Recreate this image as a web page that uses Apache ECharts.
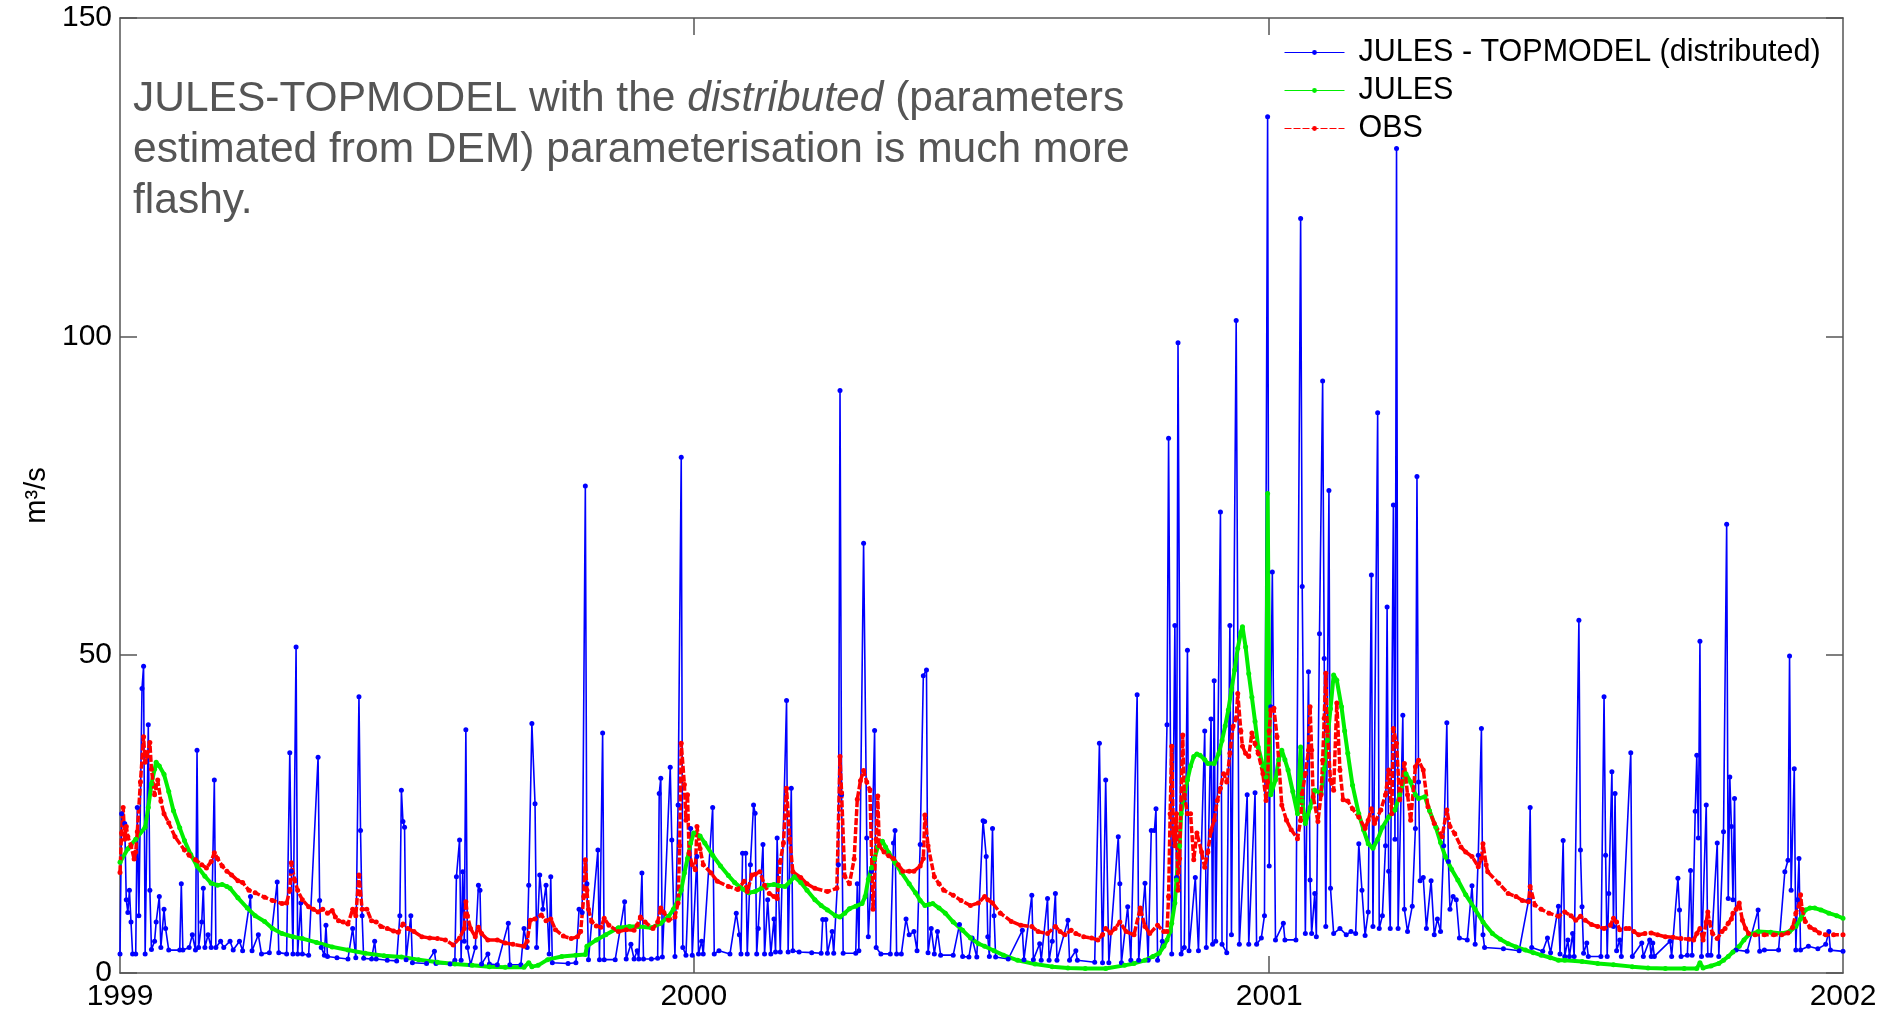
<!DOCTYPE html>
<html>
<head>
<meta charset="utf-8">
<script src="https://cdn.jsdelivr.net/npm/echarts@6/dist/echarts.min.js"></script>
<style>
  html, body { margin: 0; padding: 0; background: #fff; }
  #chart { width: 1897px; height: 1013px; }
</style>
</head>
<body>
<div id="chart"></div>
<script>
// x values are days counted from 1 Jan 1999
const xTickDays = [0, 365, 731, 1096];
const xTickLabels = ['1999', '2000', '2001', '2002'];
const yTicks = [0, 50, 100, 150];
const seriesNames = ['JULES - TOPMODEL (distributed)', 'JULES', 'OBS'];
const noteLines = [
  'JULES-TOPMODEL with the {i|distributed} (parameters',
  'estimated from DEM) parameterisation is much more',
  'flashy.'
];

// JULES - TOPMODEL (distributed), m3/s
const distributedQ = [
  [0,3],[1,25],[3,23.5],[4,11.5],[5,9.5],[6,13],[7,8],[8,3],[10,3],[11,26],[12,9],[14,44.7],[15,48.2],[16,3],[18,39],[19,13],[20,3.7],
  [22,5],[23,8],[25,12],[26,4],[28,10],[29,7],[31,3.6],[38,3.6],[39,14],[40,3.6],[44,4],[46,6],[48,3.6],[49,35],[50,4],[52,8],[53,13.3],
  [54,4],[56,6],[58,4],[60,30.3],[61,4],[64,5],[66,4],[70,5],[72,3.6],[76,5],[78,3.5],[83,12],[84,3.5],[88,6],[90,3],[95,3.2],[100,14.3],
  [101,3.2],[106,3],[108,34.6],[109,16],[110,3],[112,51.2],[113,3],[115,11],[116,3],[120,2.8],[126,33.9],[127,11.4],[128,4],[130,2.8],
  [131,7.5],[132,2.6],[138,2.4],[145,2.2],[148,7],[150,2.4],[152,43.4],[153,22.4],[154,9],[155,2.3],[160,2.2],[162,5],[163,2.2],[170,2],
  [176,1.9],[178,9],[179,28.7],[180,23.8],[181,22.9],[182,2.1],[185,9],[186,1.6],[195,1.5],[200,3.4],[201,1.5],[210,1.4],[213,2],
  [214,15.1],[216,20.9],[217,2],[218,15.9],[219,5],[220,38.2],[221,4],[223,1.3],[226,4],[228,13.8],[229,13],[230,1.4],[234,3],[235,1.4],
  [240,1.3],[247,7.8],[248,1.3],[255,1.3],[257,7],[259,4],[260,13.8],[262,39.2],[264,26.6],[265,4],[267,15.4],[269,10],[271,13.8],
  [273,3],[274,15.1],[275,1.6],[285,1.5],[290,1.6],[292,10],[294,9.5],[296,76.5],[297,14],[298,2.1],[304,19.3],[305,2.1],[307,37.7],
  [308,2.1],[315,2.1],[321,11.2],[322,2.2],[325,4.5],[327,2.2],[329,3.5],[330,2.2],[332,15.7],[333,2.2],[338,2.2],[342,2.3],[343,28.2],
  [344,30.6],[345,2.5],[350,32.3],[351,20.9],[353,2.6],[355,26.4],[357,81],[358,4],[360,2.8],[363,22.7],[364,2.8],[367,18.3],[368,3],
  [370,5],[371,3],[377,26],[378,3],[381,3.5],[388,3],[392,9.4],[394,6],[395,3],[396,18.8],[398,18.8],[399,3],[401,17],[403,26.4],
  [404,25.1],[405,3],[406,7],[409,20.2],[410,3],[412,11.5],[414,3],[416,8.5],[417,3.3],[418,21.2],[420,3.3],[424,42.8],[425,3.3],
  [427,29],[428,3.5],[432,3.3],[440,3.2],[446,3.1],[447,8.4],[449,8.4],[450,3.1],[453,6.5],[454,3.1],[457,17],[458,91.5],[459,28],
  [460,3.1],[468,3.1],[469,14],[470,3.5],[473,67.5],[475,21.2],[476,5.7],[478,16],[480,38.1],[481,4],[484,3],[490,3],[492,20.4],
  [493,22.4],[494,3],[497,3],[500,8.5],[502,6],[505,6.5],[507,3.5],[509,20.2],[511,46.7],[513,47.6],[514,3.2],[516,7],[518,3],[520,6.5],
  [522,2.8],[530,2.8],[534,7.6],[536,2.6],[540,2.5],[542,5.5],[545,2.5],[549,23.9],[550,23.8],[551,18.3],[552,5.7],[553,2.6],[555,22.7],
  [556,9],[557,2.5],[565,2.2],[574,6.7],[575,2.1],[580,12.2],[581,2.1],[585,4.6],[586,2],[590,11.7],[591,2],[593,5],[595,12.5],[596,2],
  [603,8.3],[604,2],[608,3.5],[609,2],[620,1.7],[623,36.1],[625,1.6],[627,30.3],[629,1.6],[635,21.4],[636,14],[637,1.6],[641,10.4],
  [643,2],[647,43.7],[648,2],[652,14.1],[654,2],[656,22.4],[658,22.4],[659,25.8],[660,2],[663,5],[666,39],[667,84],[669,3],[671,54.6],
  [672,15],[673,99],[675,3],[677,4],[679,50.7],[680,3.5],[684,15],[686,3.5],[690,38],[691,4],[694,39.9],[695,4.5],[696,45.9],[697,5],
  [700,72.4],[701,4.5],[704,3.2],[706,54.6],[707,6],[710,102.5],[712,4.5],[717,28],[718,4.5],[722,28.3],[723,4.5],[726,5.5],[728,9],
  [730,134.5],[731,16.8],[732,41.8],[733,63],[735,5.2],[740,7.8],[741,5.2],[748,5.2],[751,118.5],[752,60.7],[754,6.2],[756,47.3],
  [757,14.6],[758,6.2],[760,12.5],[761,5.7],[763,53.3],[765,93],[766,49.4],[767,7.3],[769,75.8],[770,13.3],[772,6.2],[776,7],[780,6],
  [783,6.5],[786,6.2],[788,20.3],[790,13],[792,5.9],[794,9.6],[796,62.5],[797,7.3],[800,88],[801,7],[803,9],[805,20],[806,57.5],[807,16],
  [808,7],[810,73.5],[811,21],[812,129.5],[813,7],[816,40.5],[817,10],[819,6.5],[822,10.5],[824,22.7],[825,78],[826,30],[827,14.5],
  [829,15],[831,7],[834,14.5],[836,6],[838,8.5],[840,6.5],[842,20],[844,39.3],[845,17.5],[846,10],[848,12],[850,11.5],[852,5.5],
  [857,5.2],[860,13.7],[862,4.5],[864,18.5],[866,38.4],[867,6],[868,4],[880,3.8],[890,3.5],[896,11.4],[897,26],[898,4],[905,3.4],
  [908,5.5],[910,3.2],[915,10.5],[916,3],[918,20.8],[919,2.6],[921,5.2],[922,2.6],[924,6.2],[925,2.6],[928,55.4],[929,19.3],[930,10.4],
  [931,3.1],[933,4.7],[934,2.6],[942,2.6],[944,43.4],[945,18.5],[946,2.6],[947,12.5],[949,31.6],[950,7.3],[951,28.2],[952,3.5],[954,5.2],
  [955,2.6],[961,34.6],[962,2.6],[968,4.7],[969,2.6],[973,5.2],[974,2.6],[975,4.7],[976,2.6],[986,5],[987,2.6],[991,14.9],[992,9.9],
  [993,2.6],[997,2.8],[999,16.1],[1000,2.8],[1002,25.4],[1003,34.2],[1004,21.2],[1005,52.1],[1006,2.6],[1009,26.4],[1010,2.8],[1012,2.8],
  [1016,20.4],[1017,2.6],[1020,22.2],[1022,70.5],[1023,11.7],[1024,30.8],[1025,23],[1026,11.5],[1027,27.4],[1028,3.6],[1035,3.4],
  [1042,9.9],[1043,3.4],[1046,3.6],[1055,3.6],[1059,15.9],[1061,17.7],[1062,49.8],[1063,13],[1065,32.1],[1066,3.6],[1067,11.5],
  [1068,18],[1069,3.6],[1074,4.2],[1080,3.8],[1085,4.5],[1087,6.5],[1088,3.6],[1096,3.4]
];

// JULES, m3/s
const julesQ = [
  [0,17.4],[5,19.5],[10,21],[16,22.9],[18,26],[20,29.7],[22,32],[23,33.1],[25,32.5],[28,31.2],[31,28.5],[34,25.5],[38,22.8],[41,20.8],
  [45,18.6],[49,16.8],[54,15.2],[58,14.1],[62,13.8],[65,13.9],[68,13.6],[70,13.3],[75,11.8],[81,10.2],[86,9],[92,8.1],[97,7],[103,6.2],
  [110,5.7],[116,5.4],[125,4.8],[135,4.1],[145,3.6],[156,3.1],[168,2.7],[179,2.5],[190,2.1],[202,1.7],[213,1.4],[224,1.2],[235,1],
  [245,0.9],[257,0.9],[260,1.6],[262,1],[266,1.2],[272,2.1],[281,2.6],[290,2.8],[296,2.9],[297,4.2],[303,5.2],[309,6],[317,7.1],
  [324,7.3],[330,7.3],[338,7.1],[344,7.8],[349,8.9],[352,10],[355,11.5],[357,13],[359,15.7],[361,18],[363,20.4],[365,22],[369,21.5],
  [372,20.4],[377,18.5],[382,16.8],[387,15.3],[391,14.2],[396,13.2],[400,12.6],[404,12.8],[408,13.3],[412,13.8],[416,13.9],[419,13.7],
  [423,13.6],[426,14.3],[429,15.1],[433,14.2],[437,13],[442,11.5],[446,10.6],[450,9.9],[455,9],[458,8.8],[461,9.4],[464,10.1],[468,10.5],
  [472,10.9],[474,12],[476,14.7],[478,16.5],[480,18],[482,19.8],[485,20.7],[487,19.8],[489,18.9],[493,17.3],[497,15.8],[502,14],
  [506,12.6],[509,11.4],[512,10.6],[515,10.8],[517,10.9],[521,10.2],[525,9.4],[530,8],[536,6.7],[541,5.5],[546,4.6],[550,4.2],[556,3.5],
  [562,2.8],[571,2],[582,1.4],[593,1],[603,0.8],[614,0.7],[627,0.7],[639,1.2],[645,1.5],[652,2],[657,2.6],[661,3.1],[664,4.2],[666,5.2],
  [668,6.5],[669,7.8],[671,11],[672,14.6],[674,20],[675,25],[677,28],[679,30.3],[681,32.5],[683,34],[685,34.4],[687,34.2],[690,33.5],
  [692,32.9],[696,32.9],[699,34.5],[701,36.5],[703,38.8],[705,41.3],[707,44.5],[709,47.6],[711,51],[713,53.5],[714,54.4],[716,51.2],
  [718,47],[720,43.3],[722,39.5],[724,35.5],[727,32.5],[729,30.8],[730,75.3],[731,43.4],[732,28],[735,30.3],[737,33.5],[739,35],
  [741,33.5],[743,31.9],[746,28.5],[749,25],[751,35.5],[752,27],[754,23.5],[757,26],[760,28.7],[764,28.2],[766,32],[768,36.6],[770,41.5],
  [772,46.8],[774,46],[777,41.8],[779,38],[781,34.5],[784,29.5],[788,25],[791,22.5],[794,20.3],[797,19.6],[800,21],[803,22.9],[807,24.5],
  [811,25.6],[814,28],[818,31.3],[821,30],[824,28],[826,27.4],[830,27.7],[833,25.5],[837,22.9],[840,20.5],[843,18.3],[847,16.3],
  [851,14.6],[856,12.3],[862,10],[867,8],[873,6.2],[878,5.3],[883,4.6],[888,4.1],[894,3.6],[899,3.2],[904,2.8],[910,2.4],[915,2],
  [919,2],[930,1.8],[940,1.5],[950,1.3],[962,1],[972,0.8],[983,0.7],[995,0.7],[1003,0.7],[1005,1.6],[1007,0.8],[1012,1.1],[1017,1.5],
  [1020,2],[1023,2.6],[1026,3.3],[1030,4.2],[1033,5.2],[1036,6],[1042,6.5],[1050,6.4],[1057,6.2],[1062,6.5],[1066,7.3],[1069,8.5],
  [1072,9.9],[1075,10.2],[1078,10.2],[1082,9.9],[1087,9.4],[1092,9],[1096,8.6]
];

// OBS, m3/s
const obsQ = [
  [0,15.8],[1,22],[2,26],[3,21],[4,23],[5,21.4],[7,20],[9,17.9],[10,19],[11,22.2],[13,30],[15,37.1],[16,33.1],[17,34],[19,36.2],[20,32],
  [22,28],[24,30.3],[26,27],[28,25],[31,23.6],[35,21.4],[41,19.3],[44,18.5],[48,17.8],[52,17],[55,16.5],[58,17.5],[60,18.9],[62,18],
  [65,16.8],[68,16],[71,15.4],[75,14.5],[78,14.2],[82,13],[86,12.6],[92,11.9],[97,11.4],[103,10.9],[106,11],[108,13],[109,17.3],
  [111,14.7],[113,13],[116,11.5],[120,10.4],[123,10],[126,9.6],[129,10],[132,9.4],[135,9.8],[137,8.8],[139,8.2],[142,8],[145,7.7],
  [148,10],[150,9],[152,15.4],[154,10],[157,10],[160,8.2],[163,8],[166,7.3],[170,7],[174,6.6],[177,6.4],[180,7.7],[183,7],[187,6.5],
  [192,5.7],[197,5.5],[202,5.4],[207,5.2],[212,4.4],[216,5.5],[219,7],[220,11.2],[221,9],[223,7],[226,5.7],[228,7.2],[230,6.2],
  [234,5.2],[240,5.2],[245,4.7],[250,4.5],[257,4.2],[259,5],[261,8.3],[264,8.5],[268,9.1],[271,8.2],[274,8.5],[277,6.8],[282,5.8],
  [287,5.4],[291,5.7],[293,6.5],[295,12],[296,17.8],[297,13],[298,10],[300,8.1],[303,7.4],[306,7.2],[308,8.6],[311,7.5],[317,6.5],
  [322,6.8],[327,6.7],[329,7.5],[331,8.8],[334,8],[339,7],[342,8],[344,10.2],[346,9.5],[349,8.3],[353,8.8],[355,11],[356,20],[357,36.1],
  [359,29.6],[360,24],[361,28],[362,18.8],[364,17],[366,16.2],[367,23],[369,19.5],[371,17],[376,15.7],[380,14.4],[387,13.6],[393,13.1],
  [397,14.4],[399,12.8],[402,15.4],[404,15.5],[407,15.9],[410,13.8],[413,12.5],[416,12],[418,11.7],[420,17.5],[422,20.4],[424,29],
  [426,21.1],[428,15.9],[433,15],[437,14],[442,13.3],[450,12.8],[456,13.3],[458,34],[459,28.3],[461,15.2],[464,14],[467,17.9],[469,27.3],
  [471,30.2],[473,31.8],[475,30],[477,28.8],[479,10],[481,21],[482,27.8],[483,20],[486,19],[489,18.4],[492,18],[495,17],[498,16],
  [502,16],[505,16],[509,16.8],[511,18],[512,24.8],[514,20],[518,15.1],[521,14],[524,13],[530,12.2],[535,11.4],[541,10.6],[546,11],
  [550,12],[552,11.5],[555,11],[560,9.4],[567,8.1],[573,7.5],[580,7.3],[584,6.5],[590,6.2],[595,7.3],[598,6.5],[601,6],[605,6.7],
  [608,6.2],[613,5.7],[618,5.5],[622,5.2],[625,6],[627,7],[630,6.3],[633,7],[636,8],[640,6.5],[645,6],[649,10.2],[652,7.3],[655,6.2],
  [660,7.5],[664,6.5],[666,6.5],[667,12],[668,25],[669,35.6],[670,22],[671,20],[672,25],[673,13],[674,18],[676,37.4],[677,28],[679,25],
  [681,25],[683,17.8],[685,22],[688,19],[690,16.6],[692,19],[694,22.4],[696,24],[698,27.1],[700,29],[702,31.3],[704,30],[706,34.5],
  [708,38.7],[710,40],[711,43.9],[713,38],[714,35.6],[716,34.5],[718,34],[720,37.7],[722,36],[724,34.5],[727,31.3],[729,27.1],[730,30],
  [731,38],[732,41.3],[734,41.6],[736,37.1],[739,26.4],[742,24],[745,22.5],[749,21.1],[751,24],[752,28.2],[754,31.3],[756,35],[757,41.8],
  [758,35],[759,27.7],[762,23.8],[764,28],[765,33.4],[766,40],[767,47.1],[768,38],[770,30.3],[772,28.7],[774,42.4],[776,31.9],[778,27.2],
  [781,27],[784,25.8],[788,24.5],[792,22.7],[794,24],[796,25.8],[798,23.5],[802,25.6],[805,28],[807,31.9],[809,25],[810,38.4],[812,36.1],
  [814,27.2],[817,32.9],[819,28],[821,24],[824,32.4],[826,33.4],[829,31.9],[832,26.1],[836,23.5],[841,21.4],[844,25.6],[846,23],
  [849,21.9],[853,19.8],[856,19],[860,18.3],[864,16.7],[866,18],[867,20.3],[869,17],[870,15.9],[877,14.1],[883,12.5],[888,12],[892,11.4],
  [896,11.2],[897,13.6],[900,10.7],[904,10],[909,9.4],[915,8.9],[919,9.6],[923,9],[926,8.3],[929,8.9],[932,8.3],[936,7.6],[940,7.3],
  [944,7],[948,7.5],[950,8.6],[952,8],[954,6.8],[958,7],[960,7],[963,6.5],[966,6],[970,6.2],[974,6.3],[978,6],[983,5.7],[988,5.6],
  [993,5.4],[998,5.3],[1001,5.2],[1003,6.2],[1005,7],[1007,5.2],[1009,8],[1010,9.6],[1011,8],[1013,6.2],[1016,5.4],[1019,6.5],[1021,7],
  [1023,7.8],[1025,8.5],[1026,9.4],[1028,10],[1030,11],[1032,8.3],[1034,7],[1036,6.2],[1040,6],[1046,6],[1052,6],[1057,6],[1061,6.3],
  [1064,7.2],[1066,9.4],[1068,10.5],[1069,12.3],[1070,10],[1072,8.1],[1075,7.2],[1078,6.8],[1081,6.3],[1085,6],[1090,6],[1096,6]
];

const FONT = '"Liberation Sans", Arial, Helvetica, sans-serif';
const frameColor = '#555';

const chart = echarts.init(document.getElementById('chart'), null, { renderer: 'canvas' });

const frameLine = { show: true, onZero: false, lineStyle: { color: frameColor, width: 1.5 } };
const innerTick = { show: true, inside: true, length: 17, lineStyle: { color: frameColor, width: 1.5 } };

const option = {
  animation: false,
  backgroundColor: '#fff',
  grid: { left: 120, right: 54, top: 18, bottom: 40, containLabel: false, outerBoundsMode: 'none' },
  xAxis: [
    {
      type: 'value', min: xTickDays[0], max: xTickDays[xTickDays.length - 1], position: 'bottom',
      axisLine: frameLine,
      axisTick: Object.assign({}, innerTick, { customValues: xTickDays.slice(1, -1) }),
      axisLabel: {
        customValues: xTickDays,
        formatter: (v) => xTickLabels[xTickDays.indexOf(v)],
        fontSize: 30, fontFamily: FONT, color: '#000', margin: 9
      },
      splitLine: { show: false }
    },
    {
      type: 'value', min: xTickDays[0], max: xTickDays[xTickDays.length - 1], position: 'top',
      axisLine: frameLine,
      axisTick: Object.assign({}, innerTick, { customValues: xTickDays.slice(1, -1) }),
      axisLabel: { show: false },
      splitLine: { show: false }
    }
  ],
  yAxis: [
    {
      type: 'value', min: yTicks[0], max: yTicks[yTicks.length - 1], interval: 50, position: 'left',
      axisLine: frameLine,
      axisTick: innerTick,
      axisLabel: { fontSize: 30, fontFamily: FONT, color: '#000', margin: 8 },
      splitLine: { show: false },
      name: 'm³/s', nameLocation: 'middle', nameGap: 64, nameRotate: 90,
      nameTextStyle: { fontSize: 29, fontFamily: FONT, color: '#000' }
    },
    {
      type: 'value', min: yTicks[0], max: yTicks[yTicks.length - 1], interval: 50, position: 'right',
      axisLine: frameLine,
      axisTick: innerTick,
      axisLabel: { show: false },
      splitLine: { show: false }
    }
  ],
  legend: {
    orient: 'vertical',
    left: 1284, top: 37,
    padding: 0,
    itemWidth: 60, itemHeight: 6, itemGap: 7,
    textStyle: { fontSize: 30.5, fontFamily: FONT, color: '#000', padding: [0, 0, 0, 9] },
    lineStyle: { width: 1 },
    data: seriesNames
  },
  graphic: noteLines.map((t, i) => ({
    type: 'text',
    x: 133, y: 99 + i * 51,
    style: {
      text: t,
      fontSize: 42.5, fontFamily: FONT, fill: '#555',
      verticalAlign: 'middle', align: 'left',
      rich: { i: { fontSize: 42.5, fontFamily: FONT, fontStyle: 'italic', fill: '#555' } }
    }
  })),
  series: [
    {
      name: seriesNames[0], type: 'line', data: distributedQ,
      symbol: 'circle', symbolSize: 5, showAllSymbol: true,
      lineStyle: { color: '#0000ff', width: 1.6 },
      itemStyle: { color: '#0000ff' }
    },
    {
      name: seriesNames[1], type: 'line', data: julesQ,
      symbol: 'circle', symbolSize: 5, showAllSymbol: true,
      lineStyle: { color: '#00ee00', width: 4 },
      itemStyle: { color: '#00ee00' }
    },
    {
      name: seriesNames[2], type: 'line', data: obsQ,
      symbol: 'circle', symbolSize: 5, showAllSymbol: true,
      lineStyle: { color: '#ff0000', width: 3.5, type: [7, 2] },
      itemStyle: { color: '#ff0000' }
    }
  ]
};

chart.setOption(option);
</script>
</body>
</html>
